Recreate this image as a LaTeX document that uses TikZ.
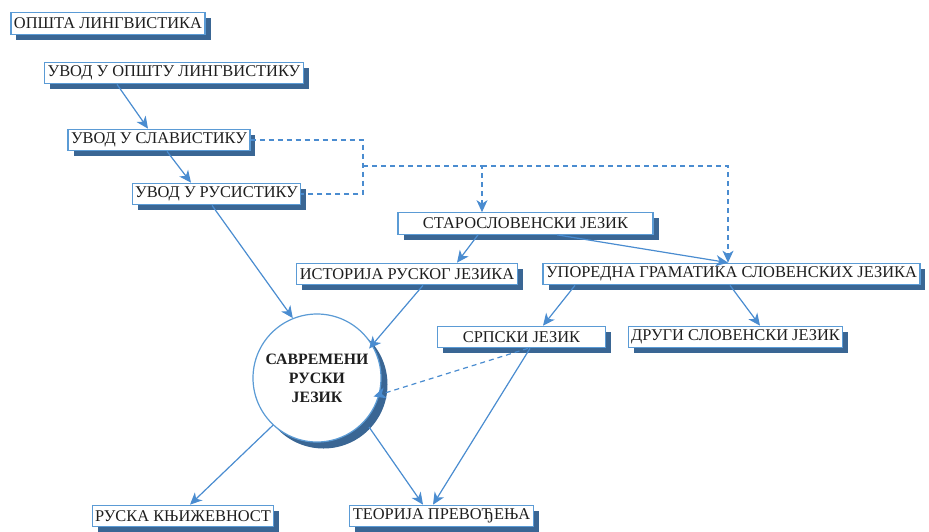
\documentclass[tikz,border=0pt]{standalone}
\usepackage{fontspec}
\setmainfont{Liberation Serif}
\usetikzlibrary{arrows.meta,shadows}
\definecolor{boxblue}{RGB}{91,155,213}
\definecolor{lineblue}{RGB}{74,140,208}
\definecolor{shadowblue}{RGB}{58,102,148}
\definecolor{textgray}{RGB}{30,30,30}
\tikzset{
  course/.style={draw=boxblue,line width=1.2pt,fill=white,text=textgray,
    font=\fontsize{16.4}{19}\selectfont,inner xsep=3pt,inner ysep=0pt,
    minimum height=21.5pt,
    drop shadow={shadow xshift=5.5pt,shadow yshift=-5.5pt,fill=shadowblue,opacity=1}},
  hub/.style={circle,draw=boxblue,line width=1.2pt,fill=white,text=textgray,
    minimum size=128pt,inner sep=0pt,align=center,
    font=\bfseries\fontsize{15.8}{19}\selectfont,
    drop shadow={shadow xshift=6.5pt,shadow yshift=-6.5pt,fill=shadowblue,opacity=1}},
  link/.style={lineblue,line width=1.2pt,-{Stealth[length=12pt,width=11pt,inset=3.5pt]}},
  dashlink/.style={link,dash pattern=on 5pt off 4pt},
}
\begin{document}
\begin{tikzpicture}[x=1pt,y=-1pt]
  \useasboundingbox (0,0) rectangle (929,531);
  % courses, top-left chain
  \node[course] (opsta) at (108,23.5) {ОПШТА ЛИНГВИСТИКА};
  \node[course] (uvodop) at (174,73) {УВОД У ОПШТУ ЛИНГВИСТИКУ};
  \node[course] (slav) at (159,140) {УВОД У СЛАВИСТИКУ};
  \node[course] (rus) at (216.5,194) {УВОД У РУСИСТИКУ};
  % middle rows
  \node[course,minimum width=255pt] (staro) at (525.5,223.5) {СТАРОСЛОВЕНСКИ ЈЕЗИК};
  \node[course] (istor) at (407,274) {ИСТОРИЈА РУСКОГ ЈЕЗИКА};
  \node[course] (upored) at (731.5,274) {УПОРЕДНА ГРАМАТИКА СЛОВЕНСКИХ ЈЕЗИКА};
  \node[course,minimum width=168pt] (srp) at (521.5,337) {СРПСКИ ЈЕЗИК};
  \node[course] (drugi) at (735.5,337) {ДРУГИ СЛОВЕНСКИ ЈЕЗИК};
  % central course
  \node[hub] (srj) at (317,378) {САВРЕМЕНИ\\РУСКИ\\ЈЕЗИК};
  % bottom row
  \node[course] (rkniz) at (183,516) {РУСКА КЊИЖЕВНОСТ};
  \node[course] (teor) at (441.5,516) {ТЕОРИЈА ПРЕВОЂЕЊА};
  % solid prerequisites
  \draw[link] ([xshift=-57pt]uvodop.south) -- ([xshift=-11pt]slav.north);
  \draw[link] ([xshift=8pt]slav.south) -- ([xshift=-25.5pt]rus.north);
  \draw[link] ([xshift=-4.5pt]rus.south) -- (srj.112);
  \draw[link] ([xshift=-47.5pt]staro.south) -- ([xshift=50pt]istor.north);
  \draw[link] ([xshift=31.5pt]staro.south) -- ([xshift=-3.5pt]upored.north);
  \draw[link,shorten >=-5pt] ([xshift=16pt]istor.south) -- (srj.31);
  \draw[link] ([xshift=-156.5pt]upored.south) -- ([xshift=21.5pt]srp.north);
  \draw[link] ([xshift=-1.5pt]upored.south) -- ([xshift=24.5pt]drugi.north);
  \draw[link] ([xshift=8.5pt]srp.south) -- ([xshift=-8.5pt]teor.north);
  \draw[link] (srj.-133) -- ([xshift=7pt]rkniz.north);
  \draw[link,shorten <=7pt] (srj.-42) -- ([xshift=-18.5pt]teor.north);
  % dashed prerequisites
  \coordinate (join) at (363,166);
  \coordinate (fork) at (482,166);
  \draw[lineblue,line width=1.2pt,dash pattern=on 5pt off 4pt]
    (slav.east) -| (join) |- (rus.east);
  \draw[dashlink] (join) -- (fork) -- ([xshift=-43.5pt]staro.north);
  \draw[dashlink] (fork) -| ([xshift=-3.5pt]upored.north);
  \draw[dashlink,shorten >=-6pt] ([xshift=6.5pt]srp.south) -- (srj.-15);
\end{tikzpicture}
\end{document}
